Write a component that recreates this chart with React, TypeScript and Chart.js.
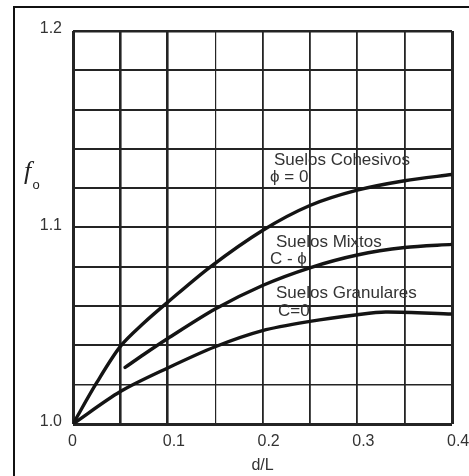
import React, { useEffect, useRef } from 'react';
import { Chart, registerables } from 'chart.js';

Chart.register(...registerables);

// ---- data ----
const cohesivosX = [0, 0.025, 0.05, 0.075, 0.1, 0.145, 0.2, 0.25, 0.3, 0.35, 0.4];
const cohesivosY = [1.0, 1.021, 1.0395, 1.0515, 1.062, 1.08, 1.0985, 1.1112, 1.119, 1.1238, 1.127];

const mixtosX = [0.055, 0.075, 0.1, 0.15, 0.2, 0.25, 0.3, 0.35, 0.4];
const mixtosY = [1.0288, 1.0355, 1.0435, 1.0585, 1.0705, 1.0795, 1.086, 1.0898, 1.0914];

const granularesX = [0, 0.05, 0.1, 0.15, 0.2, 0.25, 0.3, 0.33, 0.4];
const granularesY = [1.0, 1.0165, 1.0285, 1.0393, 1.0475, 1.0522, 1.0556, 1.057, 1.056];

const seriesNames = ['Suelos Cohesivos', 'Suelos Mixtos', 'Suelos Granulares'];
const seriesConditions = ['\u03D5 = 0', 'C - \u03D5', 'C=0'];

const xTickLabels = ['0', '0.1', '0.2', '0.3', '0.4'];
const yTickLabels = ['1.0', '1.1', '1.2'];
const xTitle = 'd/L';
const yTitleMain = 'f';
const yTitleSub = 'o';

const FONT = '"Liberation Sans", Arial, Helvetica, sans-serif';
const TEXT = '#333333';
const LINE = '#141414';
const GRID = '#242424';

const CANVAS_W = 500;
const CANVAS_H = 476;

function pts(xs: number[], ys: number[]) {
  return xs.map((x, i) => ({ x, y: ys[i] }));
}

// label anchor positions in data coordinates (left edge, baseline)
const labelAnchors = [
  { text: seriesNames[0], x: 0.2121, y: 1.1316 },
  { text: seriesConditions[0], x: 0.2079, y: 1.1232 },
  { text: seriesNames[1], x: 0.2142, y: 1.0901 },
  { text: seriesConditions[1], x: 0.2079, y: 1.0814 },
  { text: seriesNames[2], x: 0.2142, y: 1.0641 },
  { text: seriesConditions[2], x: 0.2164, y: 1.055 },
];

const decorPlugin = {
  id: 'decor',
  beforeDraw(chart: any) {
    const { ctx } = chart;
    ctx.save();
    ctx.fillStyle = '#ffffff';
    ctx.fillRect(0, 0, chart.width, chart.height);
    ctx.strokeStyle = '#111111';
    ctx.lineWidth = 2;
    ctx.beginPath();
    ctx.moveTo(14, chart.height + 4);
    ctx.lineTo(14, 7);
    ctx.lineTo(chart.width + 4, 7);
    ctx.stroke();
    ctx.restore();
  },
  afterDatasetsDraw(chart: any) {
    const { ctx, scales } = chart;
    const xs = scales.x;
    const ys = scales.y;
    ctx.save();
    ctx.fillStyle = TEXT;
    ctx.textAlign = 'left';
    ctx.textBaseline = 'alphabetic';
    ctx.font = `17px ${FONT}`;
    labelAnchors.forEach((a) => {
      ctx.fillText(a.text, xs.getPixelForValue(a.x), ys.getPixelForValue(a.y));
    });
    // y-axis title: italic f with subscript o
    ctx.fillStyle = '#222222';
    ctx.font = 'italic 26px "Liberation Serif", "Times New Roman", serif';
    ctx.fillText(yTitleMain, 24, 179);
    ctx.font = `13px ${FONT}`;
    ctx.fillText(yTitleSub, 32.5, 188.5);
    ctx.restore();
  },
};

export default function App() {
  const ref = useRef<HTMLCanvasElement | null>(null);

  useEffect(() => {
    if (!ref.current) return;
    const xWidths: Record<number, number> = { 0: 3, 5: 2.6, 10: 2.6, 15: 1.2, 20: 1.8, 25: 1.8, 30: 1.8, 35: 1.8, 40: 3 };
    const chart = new Chart(ref.current, {
      type: 'line',
      data: {
        datasets: [
          { label: seriesNames[0], data: pts(cohesivosX, cohesivosY) },
          { label: seriesNames[1], data: pts(mixtosX, mixtosY) },
          { label: seriesNames[2], data: pts(granularesX, granularesY) },
        ].map((d) => ({
          ...d,
          borderColor: LINE,
          borderWidth: 3.4,
          pointRadius: 0,
          fill: false,
          tension: 0.3,
          borderCapStyle: 'round' as const,
          borderJoinStyle: 'round' as const,
        })),
      },
      options: {
        responsive: false,
        animation: false,
        events: [],
        layout: { padding: { top: 31, left: 0, right: CANVAS_W - 452, bottom: 0 } },
        plugins: { legend: { display: false }, tooltip: { enabled: false }, title: { display: false } },
        scales: {
          x: {
            type: 'linear',
            min: 0,
            max: 0.4,
            border: { display: false },
            grid: {
              drawTicks: false,
              color: GRID,
              lineWidth: (c: any) => {
                const k = Math.round((c.tick?.value ?? 0) * 100);
                return xWidths[k] ?? 1.8;
              },
            },
            ticks: {
              stepSize: 0.05,
              autoSkip: false,
              maxRotation: 0,
              align: 'start',
              labelOffset: -5,
              padding: 8,
              color: TEXT,
              font: { family: FONT, size: 16 },
              callback: (v: any) => {
                const k = Math.round(Number(v) * 100);
                return k % 10 === 0 ? xTickLabels[k / 10] : '';
              },
            },
            title: {
              display: true,
              text: xTitle,
              color: TEXT,
              font: { family: FONT, size: 16 },
              padding: { top: 0, bottom: 1 },
            },
            afterFit: (s: any) => {
              s.height = CANVAS_H - 424;
            },
          },
          y: {
            type: 'linear',
            min: 1.0,
            max: 1.2,
            border: { display: false },
            grid: {
              drawTicks: false,
              color: GRID,
              lineWidth: (c: any) => {
                const k = Math.round(((c.tick?.value ?? 1) - 1) * 100);
                if (k === 0) return 3;
                if (k === 20) return 2.6;
                if (k === 2) return 1.5;
                return 2;
              },
            },
            ticks: {
              stepSize: 0.02,
              autoSkip: false,
              padding: 11,
              labelOffset: -2,
              color: TEXT,
              font: { family: FONT, size: 16 },
              callback: (v: any) => {
                const k = Math.round((Number(v) - 1) * 100);
                return k % 10 === 0 ? yTickLabels[k / 10] : '';
              },
            },
            afterFit: (s: any) => {
              s.width = 73;
            },
          },
        },
      } as any,
      plugins: [decorPlugin],
    });
    return () => chart.destroy();
  }, []);

  return (
    <div
      style={{
        position: 'fixed',
        left: 0,
        top: 0,
        width: 469,
        height: 476,
        overflow: 'hidden',
        background: '#fff',
      }}
    >
      <canvas ref={ref} width={CANVAS_W} height={CANVAS_H} style={{ display: 'block' }} />
    </div>
  );
}
